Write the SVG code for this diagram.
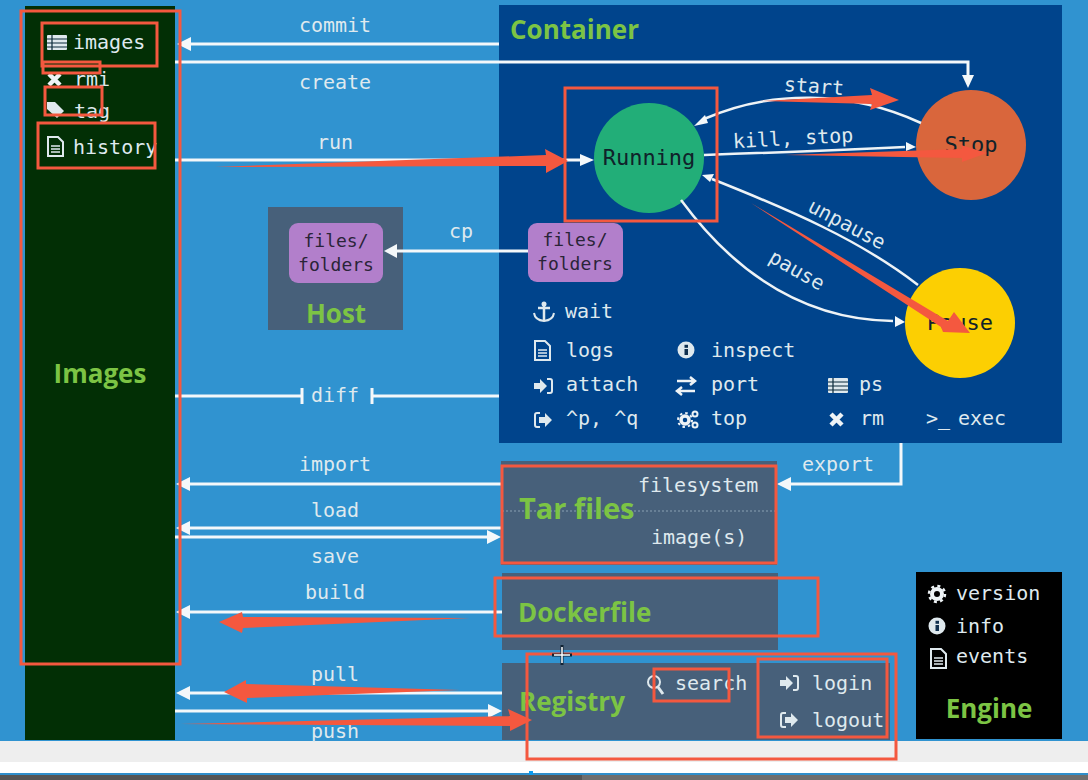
<svg xmlns="http://www.w3.org/2000/svg" width="1088" height="780" viewBox="0 0 1088 780">
<style>
text{font-family:"DejaVu Sans Mono","Liberation Mono",monospace;font-size:20px;fill:#dfe9ee}
.lab{text-anchor:middle}
.dark{fill:#10222a}
.big{font-size:22px}
.title{font-family:"Open Sans","Noto Sans",sans-serif;font-weight:700;fill:#7cc444;font-size:26px}
.small{font-size:18px;fill:#2a2438}
.wire{fill:none;stroke:#f4f8fa;stroke-width:3}
.thin{fill:none;stroke:#eef3f6;stroke-width:2.5}
.hl{fill:none;stroke:#f4583f;stroke-width:3}
.red{fill:#f4583f}
.panel{fill:#47607a}
.ic{fill:#dfe9ee}
.ics{fill:none;stroke:#dfe9ee;stroke-width:2}
.head{fill:#f4f8fa}
</style>
<defs>
<g id="list"><rect x="0" y="0" width="20" height="15" rx="1" class="ic"/><path d="M0 4h20M0 8h20M0 12h20M5 0v15" stroke="#0b2a3a" stroke-width="1.2"/></g>
<g id="doc"><path d="M1 1h10l5 5v14H1z" class="ics"/><path d="M4 10h9M4 13h9M4 16h9" stroke="#dfe9ee" stroke-width="1.5"/></g>
<g id="info"><circle cx="8" cy="8" r="8.5" class="ic"/><rect x="6.5" y="7" width="3.5" height="6" fill="#10304f"/><rect x="6.5" y="2.8" width="3.5" height="3" fill="#10304f"/></g>
<g id="in"><path d="M0 5h6V1l7 7-7 7v-4H0z" class="ic"/><path d="M13 1h3q2 0 2 2v10q0 2-2 2h-3" class="ics" stroke-width="1.5"/></g>
<g id="out"><path d="M6 1H3Q1 1 1 3v10q0 2 2 2h3" class="ics" stroke-width="1.5"/><path d="M5 5h6V1l7 7-7 7v-4H5z" class="ic"/></g>
<g id="x"><path d="M2 2l11 11M13 2L2 13" stroke="#eef3f6" stroke-width="4.5"/></g>
<g id="gear"><circle cx="8" cy="8" r="5" fill="none" stroke="#eef3f6" stroke-width="4"/><circle cx="8" cy="8" r="8" fill="none" stroke="#eef3f6" stroke-width="2.5" stroke-dasharray="3 3.3"/></g>
<g id="gears"><circle cx="7" cy="10" r="4" fill="none" stroke="#eef3f6" stroke-width="3.5"/><circle cx="7" cy="10" r="7" fill="none" stroke="#eef3f6" stroke-width="2" stroke-dasharray="2.5 3"/><circle cx="17" cy="4" r="2.5" fill="none" stroke="#eef3f6" stroke-width="2"/><circle cx="17" cy="15" r="2.5" fill="none" stroke="#eef3f6" stroke-width="2"/></g>
</defs>
<rect width="1088" height="780" fill="#3093d0"/>
<rect y="741" width="1088" height="21" fill="#eeeeee"/>
<rect y="762" width="1088" height="11" fill="#ffffff"/>
<rect y="773" width="1088" height="2" fill="#2f8ecb"/>
<rect y="775" width="1088" height="5" fill="#6e6e6e"/>
<rect x="0" y="775" width="582" height="5" fill="#555"/>
<rect x="529" y="771" width="4" height="4" fill="#0a9bf0"/>

<g id="node-images">
<rect x="25" y="6" width="150" height="734" fill="#022f05"/>
<use href="#list" x="47" y="35"/><text x="73" y="49">images</text>
<use href="#x" x="47" y="72"/><text x="74" y="86">rmi</text>
<path d="M47 102h8l9 9-7 7-10-9z" class="ic"/><text x="74" y="118">tag</text>
<use href="#doc" x="47" y="136"/><text x="73" y="154">history</text>
<text class="title" x="100" y="383" text-anchor="middle">Images</text>
</g>
<g id="node-container">
<rect x="499" y="5" width="563" height="438" fill="#00448c"/>
<text class="title" x="510" y="39">Container</text>
<g id="node-running"><circle cx="649" cy="158" r="55" fill="#22ae78"/><text class="lab dark big" x="649" y="165">Running</text></g>
<g id="node-stop"><circle cx="971" cy="145" r="55" fill="#d9663c"/><text class="lab dark big" x="971" y="152">Stop</text></g>
<g id="node-pause"><circle cx="960" cy="323" r="55" fill="#fccf02"/><text class="lab dark big" x="960" y="330">Pause</text></g>
<g id="node-files-c"><rect x="528" y="223" width="95" height="59" rx="9" fill="#b27fcb"/><text class="lab small" x="575" y="246">files/</text><text class="lab small" x="575" y="270">folders</text></g>
<g id="cmds">
<g class="ic"><path d="M544 303v17m-6-12h12" stroke="#dfe9ee" stroke-width="2.5"/><path d="M534 313q1 7 10 8 9-1 10-8" class="ics" stroke-width="2.5"/><circle cx="544" cy="304" r="2.5"/></g>
<text x="565" y="318">wait</text>
<use href="#doc" x="534" y="340"/><text x="566" y="357">logs</text>
<use href="#info" x="678" y="342"/><text x="711" y="357">inspect</text>
<use href="#in" x="534" y="378"/><text x="566" y="391">attach</text>
<path d="M677 381h17m-4-4 5 4-5 4M695 391h-17m4-4-5 4 5 4" fill="none" stroke="#eef3f6" stroke-width="2.5"/><text x="711" y="391">port</text>
<use href="#list" x="828" y="378"/><text x="859" y="391">ps</text>
<use href="#out" x="534" y="412"/><text x="566" y="425">^p, ^q</text>
<use href="#gears" x="678" y="410"/><text x="711" y="425">top</text>
<use href="#x" x="829" y="412"/><text x="860" y="425">rm</text>
<text x="926" y="425">&gt;_</text><text x="958" y="425">exec</text>
</g>
</g>
<g id="node-host">
<rect x="268" y="207" width="135" height="123" class="panel"/>
<rect x="289" y="223" width="94" height="60" rx="9" fill="#b27fcb"/>
<text class="lab small" x="336" y="247">files/</text><text class="lab small" x="336" y="271">folders</text>
<text class="title" x="336" y="323" text-anchor="middle">Host</text>
</g>
<g id="node-tar">
<rect x="501" y="461" width="276" height="104" class="panel"/>
<path d="M502 511h274" stroke="#8aa0b2" stroke-width="1" stroke-dasharray="2 2"/>
<text class="title" x="519" y="519" style="font-size:29px">Tar files</text>
<text x="638" y="492">filesystem</text><text x="651" y="544">image(s)</text>
</g>
<g id="node-dockerfile">
<rect x="502" y="573" width="276" height="77" class="panel"/>
<text class="title" x="518" y="622">Dockerfile</text>
</g>
<g id="node-registry">
<rect x="502" y="663" width="388" height="77" class="panel"/>
<text class="title" x="519" y="711">Registry</text>
<circle cx="654" cy="682" r="6" class="ics" stroke-width="2.5"/><path d="M658 687l5 7" stroke="#dfe9ee" stroke-width="3"/>
<text x="675" y="690">search</text>
<use href="#in" x="780" y="675"/><text x="812" y="690">login</text>
<use href="#out" x="780" y="712"/><text x="812" y="727">logout</text>
</g>
<g id="node-engine">
<rect x="916" y="572" width="146" height="167" fill="#000"/>
<use href="#gear" x="929" y="586"/><text x="956" y="600">version</text>
<use href="#info" x="929" y="618"/><text x="956" y="633">info</text>
<use href="#doc" x="930" y="648"/><text x="956" y="663">events</text>
<text class="title" x="989" y="718" text-anchor="middle">Engine</text>
</g>

<g id="connectors">
<path class="wire" d="M499 44H190"/><path class="head" d="M177 44l14-7v14z"/>
<path class="wire" d="M175 62H968V76"/><path class="head" d="M968 88l-6-13h12z"/>
<path class="wire" d="M175 160H580"/><path class="head" d="M594 160l-14-6v12z"/>
<path class="wire" d="M528 251H396"/><path class="head" d="M384 251l13-7v14z"/>
<path class="wire" d="M175 396H302M302 388v16M372 388v16M372 396H499"/>
<path class="wire" d="M901 443V484H790"/><path class="head" d="M777 484l14-7v14z"/>
<path class="wire" d="M501 484H190"/><path class="head" d="M176 484l14-7v14z"/>
<path class="wire" d="M501 528H190"/><path class="head" d="M176 528l14-7v14z"/>
<path class="wire" d="M175 537H488"/><path class="head" d="M501 537l-14-7v14z"/>
<path class="wire" d="M502 612H190"/><path class="head" d="M176 612l14-7v14z"/>
<path class="wire" d="M502 693H190"/><path class="head" d="M176 693l14-7v14z"/>
<path class="wire" d="M175 711H488"/><path class="head" d="M502 711l-14-7v14z"/>
<path class="thin" d="M921 123C850 90 770 90 704 119"/><path class="head" d="M694 126l11-11 3 8z"/>
<path class="thin" d="M704 155Q820 151 905 147"/><path class="head" d="M916 147l-10-5v9z"/>
<path class="thin" d="M918 285C860 240 790 210 712 179"/><path class="head" d="M702 175l12-1-4 8z"/>
<path class="thin" d="M681 200C740 280 810 320 893 321"/><path class="head" d="M905 322l-10-6v11z"/>
</g>
<g id="edge-labels">
<text class="lab" x="335" y="32">commit</text>
<text class="lab" x="335" y="89">create</text>
<text class="lab" x="335" y="149">run</text>
<text class="lab" x="461" y="238">cp</text>
<text class="lab" x="335" y="402">diff</text>
<text class="lab" x="335" y="471">import</text>
<text class="lab" x="335" y="517">load</text>
<text class="lab" x="335" y="563">save</text>
<text class="lab" x="335" y="599">build</text>
<text class="lab" x="335" y="681">pull</text>
<text class="lab" x="335" y="738">push</text>
<text class="lab" x="838" y="471">export</text>
<text class="lab" x="814" y="93" transform="rotate(4 814 87)">start</text>
<text class="lab" x="793" y="145" transform="rotate(-3 793 138)">kill, stop</text>
<text class="lab" x="847" y="231" transform="rotate(28 847 224)">unpause</text>
<text class="lab" x="797" y="277" transform="rotate(30 797 270)">pause</text>
</g>
<g id="annotations">
<rect class="hl" x="21" y="11" width="159" height="653"/>
<rect class="hl" x="42" y="23" width="115" height="43"/>
<rect class="hl" x="43" y="62" width="57" height="11"/>
<rect class="hl" x="45" y="87" width="57" height="28"/>
<rect class="hl" x="38" y="123" width="117" height="45"/>
<rect class="hl" x="565" y="88" width="152" height="133"/>
<rect class="hl" x="502" y="466" width="274" height="97"/>
<rect class="hl" x="495" y="578" width="323" height="58"/>
<rect class="hl" x="527" y="654" width="369" height="105"/>
<rect class="hl" x="654" y="669" width="75" height="32"/>
<rect class="hl" x="758" y="659" width="129" height="78"/>
<path class="red" d="M215 167 546 155 545 149 568 161 546 173 546 166z"/>
<path class="red" d="M760 101 872 95 870 88 899 100 870 110 872 104z"/>
<path class="red" d="M785 155 962 149 961 145 987 153 962 162 962 158z"/>
<path class="red" d="M751 203 948 321 954 312 970 333 943 332 941 327z"/>
<path class="red" d="M470 618 243 617 242 612 219 622 242 633 243 628z"/>
<path class="red" d="M460 690 246 684 246 680 224 692 247 703 247 698z"/>
<path class="red" d="M180 724 510 716 508 709 532 720 510 731 510 726z"/>
</g>
<g id="cursor"><path d="M562 645v20M552 655h20" stroke="#123" stroke-width="3"/><path d="M562 647v16M554 655h16" stroke="#fff" stroke-width="1.5"/></g>
</svg>
